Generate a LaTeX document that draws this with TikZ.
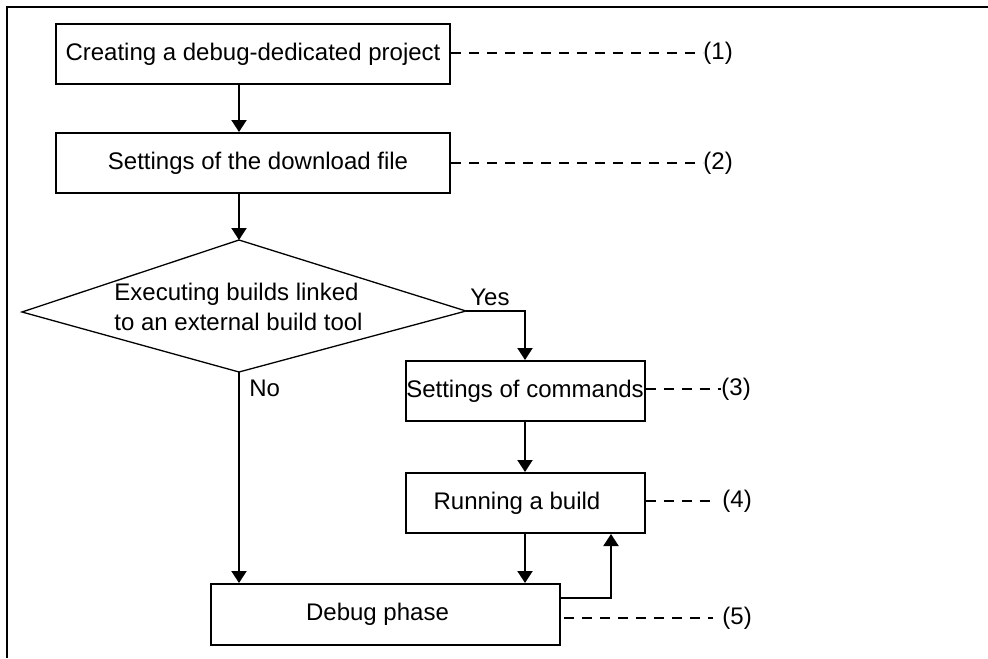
\documentclass[tikz,border=0pt]{standalone}
\usepackage{fontspec}
\setmainfont{Liberation Sans}
\usetikzlibrary{arrows.meta}
\tikzset{
  stepbox/.style={draw, line width=1pt, inner sep=0pt, minimum height=30pt, font=\fontsize{12}{15}\selectfont},
  arr/.style={line width=1pt, -{Triangle[length=6pt,width=7.5pt]}},
  dashline/.style={line width=1pt, dash pattern=on 5pt off 4pt},
  lbl/.style={inner sep=0pt, anchor=west, font=\fontsize{12}{15}\selectfont},
  txt/.style={inner sep=0pt, font=\fontsize{12}{15}\selectfont}
}
\begin{document}
\begin{tikzpicture}[x=0.5pt, y=-0.5pt]
\useasboundingbox (0,0) rectangle (988,658);
% frame
\draw[line width=1.25pt] (988,7) -- (7,7) -- (7,658);
% boxes
\node[stepbox, minimum width=197pt] (b1) at (253,54) {Creating a debug-dedicated project};
\node[stepbox, minimum width=197pt] (b2) at (253,163) {\hspace*{5pt}Settings of the download file};
\node[stepbox, minimum width=119.5pt] (b3) at (525,391) {Settings of commands};
\node[stepbox, minimum width=119.5pt] (b4) at (525,503) {Running a build\hspace*{8pt}};
\node[stepbox, minimum width=174.5pt, minimum height=30.5pt] (b5) at (385.5,614.5) {Debug phase\hspace*{8pt}};
% decision
\coordinate (dt) at (239,240);
\coordinate (dr) at (466,311);
\coordinate (db) at (239,372);
\coordinate (dl) at (22,312);
\draw[line width=0.65pt] (dt) -- (dr) -- (db) -- (dl) -- cycle;
\node[txt, anchor=north west, align=left] (dtext) at (114,283) {Executing builds linked\\to an external build tool};
\node[txt, anchor=base west] (yes) at (470,305) {Yes};
\node[txt, anchor=base west] (no) at (249,396) {No};
% connectors
\draw[arr] (b1.south -| dt) -- (b2.north -| dt);
\draw[arr] (b2.south -| dt) -- (dt);
\draw[arr] (db) -- (b5.north -| db);
\draw[arr] (dr) -| (b3.north);
\draw[arr] (b3.south) -- (b4.north);
\draw[arr] (b4.south) -- (b4.south |- b5.north);
\coordinate (fb) at (611,598);
\draw[arr] (b5.east |- fb) -| (b4.south -| fb);
% reference labels
\node[lbl] (l1) at (703,53) {(1)};
\node[lbl] (l2) at (703,163) {(2)};
\node[lbl] (l3) at (721,389) {(3)};
\node[lbl] (l4) at (722,501) {(4)};
\node[lbl] (l5) at (722,618) {(5)};
\coordinate (e4) at (712,501);
\coordinate (e5) at (713,618);
\coordinate (s5) at (564,618);
\draw[dashline] (b1.east |- l1.west) -- (l1.west);
\draw[dashline] (b2.east |- l2.west) -- (l2.west);
\draw[dashline] (b3.east |- l3.west) -- (l3.west);
\draw[dashline] (b4.east |- l4.west) -- (e4);
\draw[dashline] (s5) -- (e5);
\end{tikzpicture}
\end{document}
